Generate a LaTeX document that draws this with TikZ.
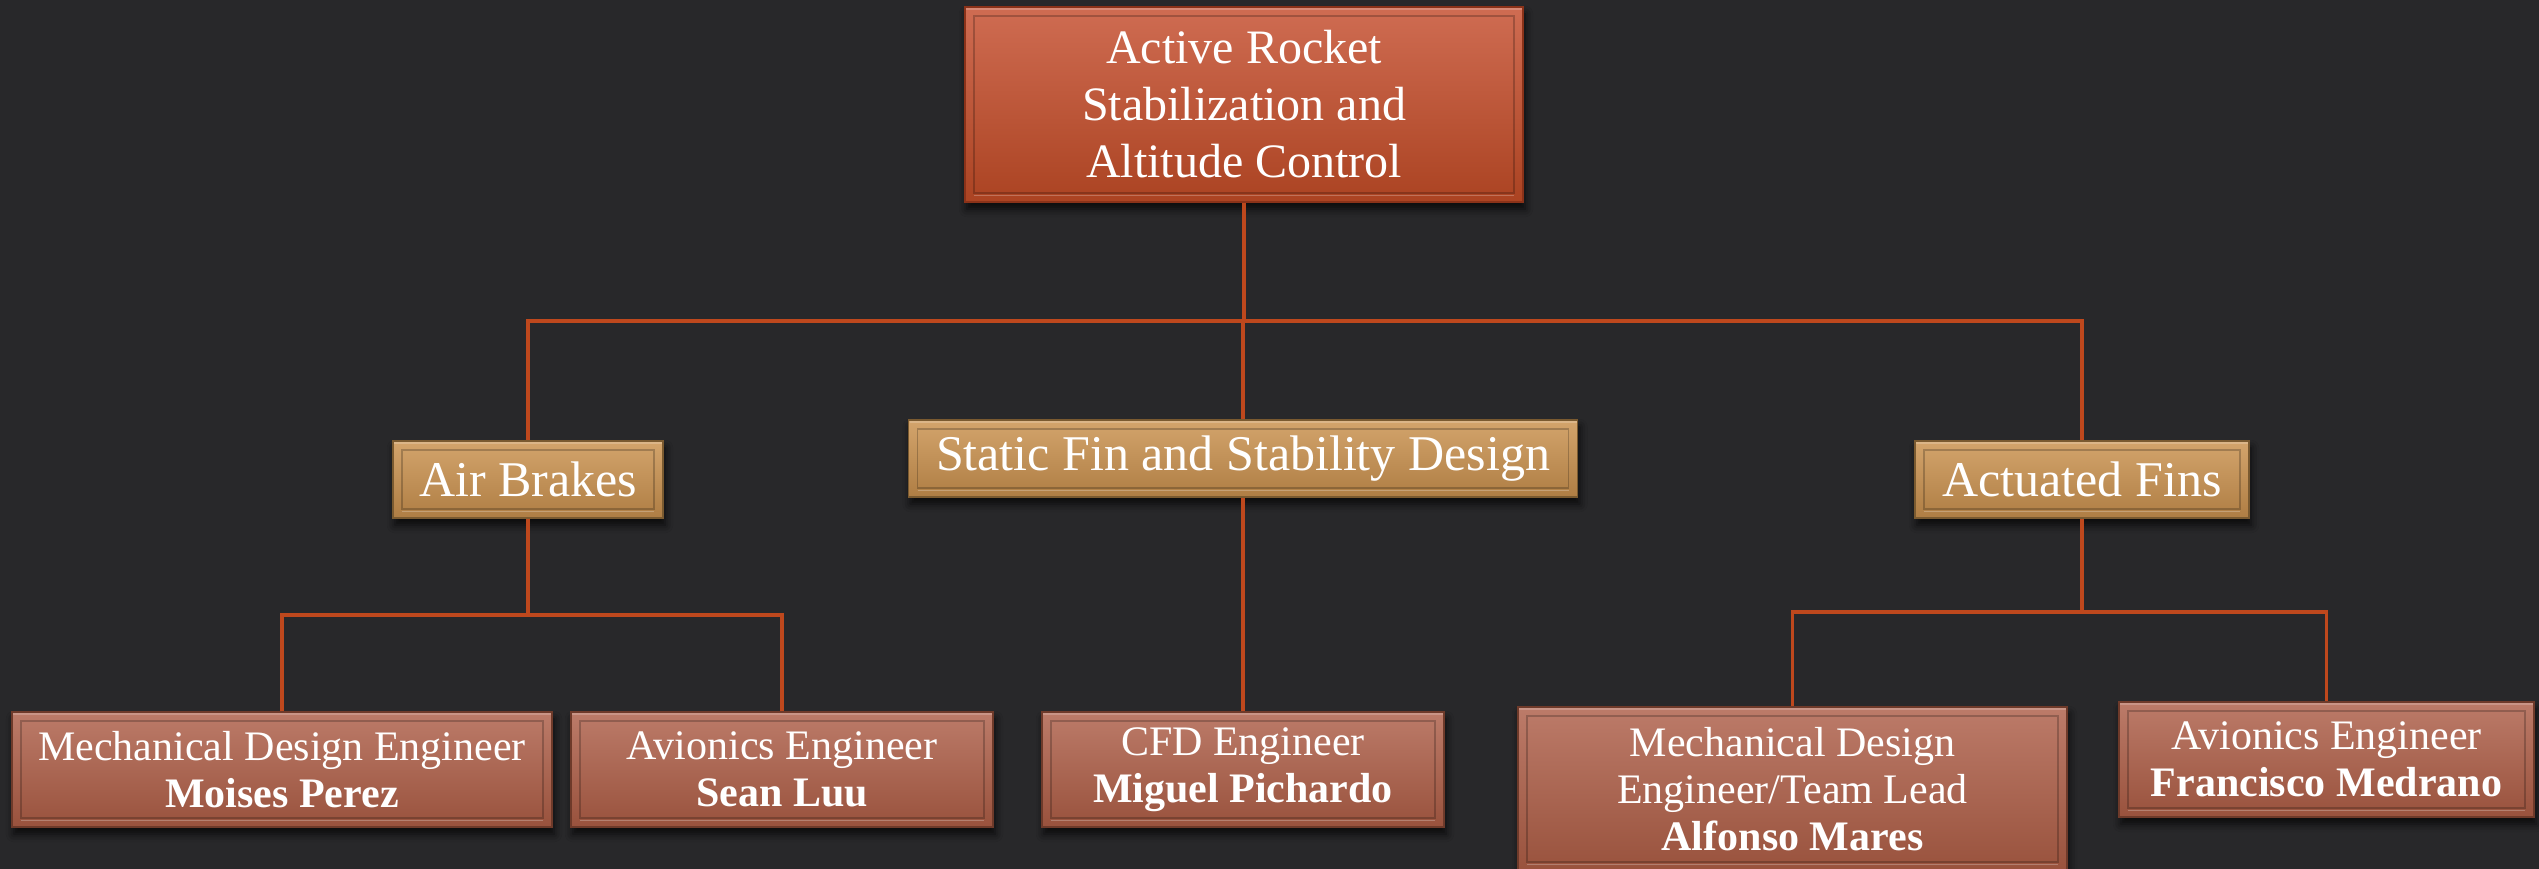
\documentclass[tikz,border=0pt]{standalone}
\usepackage{fontspec}
\setmainfont{Liberation Serif}
\usetikzlibrary{shadows.blur}

\definecolor{bgc}{HTML}{28282A}
\definecolor{linec}{HTML}{BE481D}
\definecolor{rootT}{HTML}{CF6C52}
\definecolor{rootB}{HTML}{AB4322}
\definecolor{rootE}{HTML}{8A3219}
\definecolor{midT}{HTML}{D3A46C}
\definecolor{midB}{HTML}{AF7E44}
\definecolor{midE}{HTML}{7A5A30}
\definecolor{leafT}{HTML}{BC7B69}
\definecolor{leafB}{HTML}{99523D}
\definecolor{leafE}{HTML}{6E3A2A}

\tikzset{
  bevel/.style={path picture={
    % recessed inner panel
    \draw[black, opacity=.22, line width=1.8pt]
      ([shift={(9pt,9pt)}]path picture bounding box.south west) rectangle
      ([shift={(-9pt,-9pt)}]path picture bounding box.north east);
    % light lip along the lower edge
    \draw[white, opacity=.25, line width=1.6pt]
      ([shift={(9pt,6.5pt)}]path picture bounding box.south west) --
      ([shift={(-9pt,6.5pt)}]path picture bounding box.south east);
    % highlight along the top rim
    \draw[white, opacity=.2, line width=1.6pt]
      ([shift={(1pt,-2pt)}]path picture bounding box.north west) --
      ([shift={(-1pt,-2pt)}]path picture bounding box.north east);
  }},
  box/.style={rectangle, inner sep=0pt, align=center, text=white,
    line width=1.4pt, bevel,
    blur shadow={shadow xshift=2pt, shadow yshift=-7pt,
                 shadow blur radius=8pt, shadow opacity=75}},
  rootbox/.style={box, draw=rootE, top color=rootT, bottom color=rootB,
    font=\fontsize{48}{57}\selectfont},
  midbox/.style={box, draw=midE, top color=midT, bottom color=midB,
    minimum height=77pt, font=\fontsize{50}{58}\selectfont},
  leafbox/.style={box, draw=leafE, top color=leafT, bottom color=leafB,
    minimum height=115pt, font=\fontsize{42}{47}\selectfont},
  conn/.style={draw=linec, line width=3.4pt},
}

\begin{document}
\begin{tikzpicture}[x=1pt, y=-1pt]
  \useasboundingbox (0,0) rectangle (2539,869);
  \fill[bgc] (0,0) rectangle (2539,869);

  % project
  \node[rootbox, minimum width=558pt, minimum height=195pt] (root) at (1244,104.5)
    {Active Rocket\\Stabilization and\\Altitude Control};

  % sub-teams
  \node[midbox, minimum width=270pt] (air) at (528,479.5) {Air Brakes};
  \node[midbox, minimum width=669pt] (fin) at (1243,458.5) {Static Fin and Stability Design};
  \node[midbox, minimum width=334pt] (act) at (2082,479.5) {Actuated Fins};

  % members
  \node[leafbox, minimum width=540pt] (mech1) at (282,769.5)
    {Mechanical Design Engineer\\\textbf{Moises Perez}};
  \node[leafbox, minimum width=422pt] (avi1) at (782,769.5)
    {Avionics Engineer\\\textbf{Sean Luu}};
  \node[leafbox, minimum width=402pt] (cfd) at (1243,769.5)
    {CFD Engineer\\\textbf{Miguel Pichardo}};
  \node[leafbox, minimum width=549pt, minimum height=164pt] (mech2) at (1792.5,789)
    {Mechanical Design\\Engineer/Team Lead\\\textbf{Alfonso Mares}};
  \node[leafbox, minimum width=415pt] (avi2) at (2326.5,759.5)
    {Avionics Engineer\\\textbf{Francisco Medrano}};

  % bus lines
  \coordinate (bus)  at (1244,321);
  \coordinate (busL) at (528,615);
  \coordinate (busR) at (2082,612);

  \draw[conn] (root.south) -- (root.south |- bus);
  \draw[conn] (air.north) -- (air.north |- bus) -- (act.north |- bus) -- (act.north);
  \draw[conn] (fin.north) -- (fin.north |- bus);

  \draw[conn] (air.south) -- (busL);
  \draw[conn] (mech1.north) -- (mech1.north |- busL) -- (avi1.north |- busL) -- (avi1.north);

  \draw[conn] (fin.south) -- (cfd.north);

  \draw[conn] (act.south) -- (busR);
  \draw[conn] (mech2.north) -- (mech2.north |- busR) -- (avi2.north |- busR) -- (avi2.north);
\end{tikzpicture}
\end{document}
